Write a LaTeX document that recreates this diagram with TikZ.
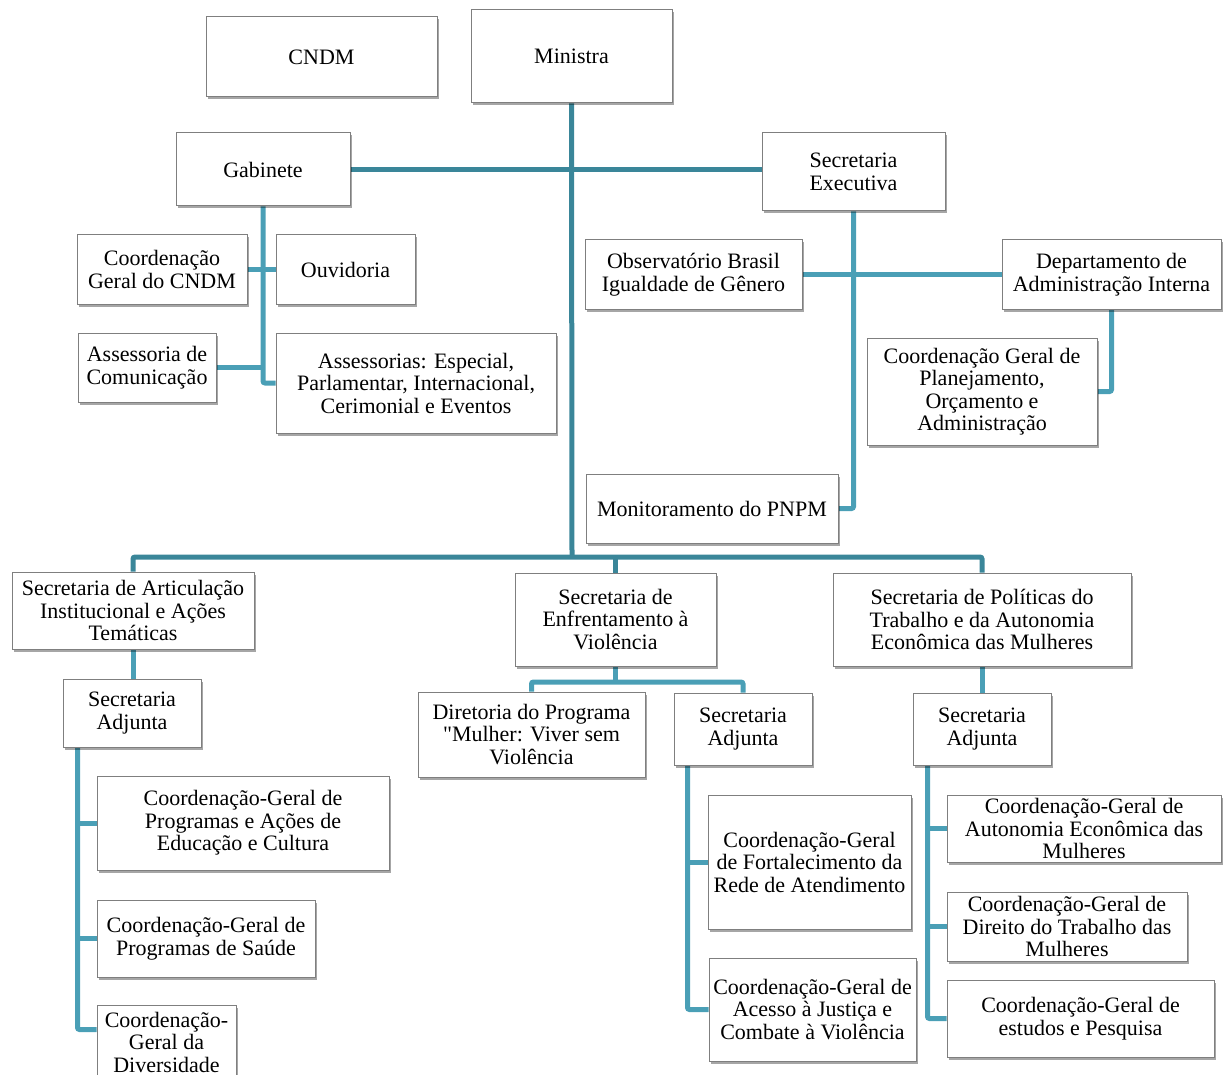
\documentclass[tikz,border=0pt]{standalone}
\usepackage{fontspec}
\setmainfont{Liberation Serif}
\usetikzlibrary{shadows,backgrounds,calc}
\definecolor{lineA}{HTML}{3A8699}
\definecolor{lineB}{HTML}{4A9FB6}
\definecolor{boxline}{HTML}{7F7F7F}
\tikzset{
 box/.style={draw=boxline, line width=1pt, fill=white, align=center, inner xsep=3pt, inner ysep=0pt,
   font=\fontsize{22}{22.5}\selectfont,
   drop shadow={shadow xshift=2pt,shadow yshift=-2.5pt,opacity=0.35,fill=black}},
 mainline/.style={draw=lineA, line width=5pt, rounded corners=2pt},
 subline/.style={draw=lineB, line width=5pt, rounded corners=2pt},
}
\newcommand\orgbox[6]{\node[box, minimum width=#4pt, minimum height=#5pt] (#1) at (#2,#3) {#6};}
\begin{document}
\begin{tikzpicture}[x=1pt,y=-1pt]
\useasboundingbox (0,0) rectangle (1223,1075);
% top
\orgbox{cndm}{321.5}{57}{231}{80}{CNDM}
\orgbox{min}{571.5}{56.5}{201}{93}{Ministra}
\orgbox{gab}{263}{169.5}{174}{73}{Gabinete}
\orgbox{sexec}{853.5}{172}{183}{78}{Secretaria\\Executiva}
\orgbox{cgcndm}{162}{269.5}{170}{69}{Coordenação\\Geral do CNDM}
\orgbox{ouv}{345.5}{269.5}{139}{69}{Ouvidoria}
\orgbox{ascom}{147}{367.5}{138}{69}{Assessoria de\\Comunicação}
\orgbox{asses}{416}{383}{280}{100}{Assessorias: Especial,\\Parlamentar, Internacional,\\Cerimonial e Eventos}
\orgbox{obs}{693.5}{274.5}{217}{69}{Observatório Brasil\\Igualdade de Gênero}
\orgbox{dep}{1111.5}{274.5}{219}{69}{Departamento de\\Administração Interna}
\orgbox{cgpl}{982}{391.5}{230}{107}{Coordenação Geral de\\Planejamento,\\Orçamento e\\Administração}
\orgbox{mon}{712}{508.5}{252}{69}{Monitoramento do PNPM}
% secretarias
\orgbox{sart}{133}{610.5}{242}{77}{Secretaria de Articulação\\Institucional e Ações\\Temáticas}
\orgbox{senf}{615.5}{619.5}{201}{93}{Secretaria de\\Enfrentamento à\\Violência}
\orgbox{spol}{982}{619.5}{298}{93}{Secretaria de Políticas do\\Trabalho e da Autonomia\\Econômica das Mulheres}
\orgbox{sa1}{132}{713}{138}{68}{Secretaria\\Adjunta}
\orgbox{dir}{531.5}{734.5}{227}{85}{Diretoria do Programa\\\textquotedbl Mulher: Viver sem\\Violência}
\orgbox{sa2}{743}{729}{138}{72}{Secretaria\\Adjunta}
\orgbox{sa3}{982}{729}{138}{72}{Secretaria\\Adjunta}
\orgbox{cgedu}{243}{823}{292}{94}{Coordenação-Geral de\\Programas e Ações de\\Educação e Cultura}
\orgbox{cgsau}{206}{938.5}{218}{77}{Coordenação-Geral de\\Programas de Saúde}
\orgbox{cgdiv}{166.5}{1042}{139}{74}{Coordenação-\\Geral da\\Diversidade}
\orgbox{cgfor}{809.5}{862}{203}{134}{Coordenação-Geral\\de Fortalecimento da\\Rede de Atendimento}
\orgbox{cgace}{812.5}{1009.5}{207}{103}{Coordenação-Geral de\\Acesso à Justiça e\\Combate à Violência}
\orgbox{cgaut}{1084}{828.5}{274}{67}{Coordenação-Geral de\\Autonomia Econômica das\\Mulheres}
\orgbox{cgdir}{1067}{926.5}{240}{69}{Coordenação-Geral de\\Direito do Trabalho das\\Mulheres}
\orgbox{cgest}{1080.5}{1018.5}{267}{77}{Coordenação-Geral de\\estudos e Pesquisa}
% helper coordinates
\coordinate (bus) at (572,557);
\coordinate (enfj) at (616,682);
\coordinate (sa1v) at ($(sa1.south west)+(15,0)$);
\coordinate (sa2v) at ($(sa2.south west)+(14,0)$);
\coordinate (sa3v) at ($(sa3.south west)+(15,0)$);
\coordinate (divj) at ($(cgdiv.north west)+(0,25)$);
\begin{scope}[on background layer]
\draw[mainline] (min.south) -- (bus);
\draw[mainline] (gab.east) -- (sexec.west |- gab.east);
\draw[mainline] (sart.north) -- (sart.north |- bus) -- (spol.north |- bus) -- (spol.north);
\draw[mainline] (senf.north) -- (senf.north |- bus);
% gabinete
\draw[subline] (gab.south) -- (gab.south |- asses.west) -- (asses.west);
\draw[subline] (cgcndm.east) -- (ouv.west);
\draw[subline] (ascom.east) -- (ascom.east -| gab.south);
% secretaria executiva
\draw[subline] (sexec.south) -- (sexec.south |- mon.east) -- (mon.east);
\draw[subline] (obs.east) -- (dep.west);
\draw[subline] (dep.south) -- (dep.south |- cgpl.east) -- (cgpl.east);
% articulacao
\draw[subline] (sart.south) -- (sart.south |- sa1.north);
\draw[subline] (sa1v) -- (sa1v |- divj) -- (divj);
\draw[subline] (sa1v |- cgedu.west) -- (cgedu.west);
\draw[subline] (sa1v |- cgsau.west) -- (cgsau.west);
% enfrentamento
\draw[subline] (senf.south) -- (senf.south |- enfj);
\draw[subline] (dir.north) -- (dir.north |- enfj) -- (sa2.north |- enfj) -- (sa2.north);
\draw[subline] (sa2v) -- (sa2v |- cgace.west) -- (cgace.west);
\draw[subline] (sa2v |- cgfor.west) -- (cgfor.west);
% politicas
\draw[subline] (spol.south) -- (sa3.north);
\draw[subline] (sa3v) -- (sa3v |- cgest.west) -- (cgest.west);
\draw[subline] (sa3v |- cgaut.west) -- (cgaut.west);
\draw[subline] (sa3v |- cgdir.west) -- (cgdir.west);
\end{scope}
\end{tikzpicture}
\end{document}
